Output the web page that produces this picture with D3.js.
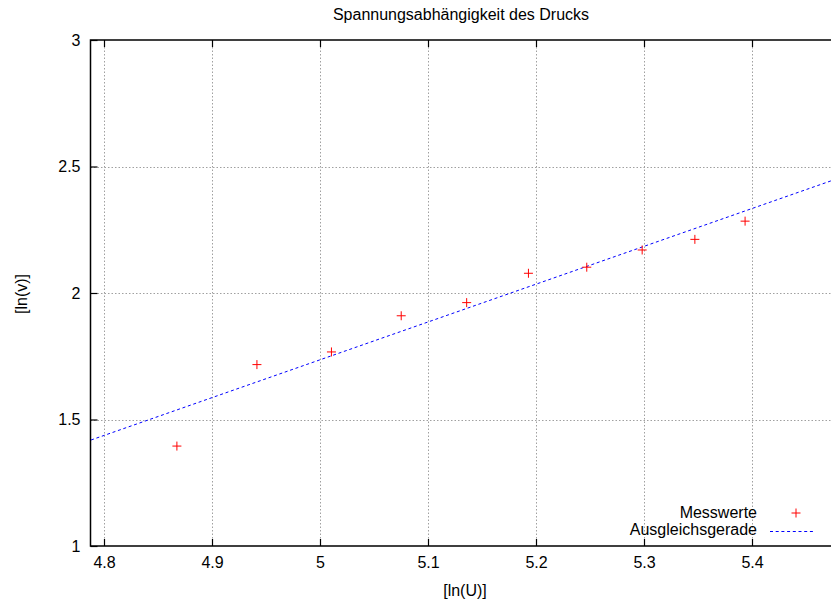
<!DOCTYPE html>
<html>
<head>
<meta charset="utf-8">
<script src="https://cdn.jsdelivr.net/npm/d3@7"></script>
<style>
  body { margin: 0; background: #fff; }
  svg { display: block; }
  text { font-family: "Liberation Sans", Arial, sans-serif; font-size: 16px; fill: #000; }
</style>
</head>
<body>
<svg id="chart" width="831" height="602"></svg>
<script>
// Data
const lnU = [4.8675, 4.9416, 5.0106, 5.0752, 5.1358, 5.1930, 5.2470, 5.2983, 5.3471, 5.3936];
const lnV = [1.395, 1.717, 1.767, 1.910, 1.962, 2.078, 2.102, 2.170, 2.212, 2.284];
const fitX = [4.788, 5.473];
const fitY = [1.419, 2.443];
const xTicks = [4.8, 4.9, 5.0, 5.1, 5.2, 5.3, 5.4];
const xTickLabels = ["4.8", "4.9", "5", "5.1", "5.2", "5.3", "5.4"];
const yTicks = [1, 1.5, 2, 2.5, 3];
const yTickLabels = ["1", "1.5", "2", "2.5", "3"];
const title = "Spannungsabhängigkeit des Drucks";
const xLabel = "[ln(U)]";
const yLabel = "[ln(v)]";
const legendLabels = ["Messwerte", "Ausgleichsgerade"];

const pLeft = 90.5, pRight = 831.5, pTop = 40, pBottom = 546;
const x = d3.scaleLinear().domain([4.8, 5.4]).range([104, 752]);
const y = d3.scaleLinear().domain([1, 3]).range([pBottom, pTop]);

const svg = d3.select("#chart");

// grid
const grid = svg.append("g").attr("stroke", "#a0a0a0").attr("stroke-width", 1).attr("stroke-dasharray", "1.5,2");
grid.selectAll("line.vx").data(xTicks).enter().append("line")
  .attr("x1", d => Math.round(x(d)) + 0.5).attr("x2", d => Math.round(x(d)) + 0.5)
  .attr("y1", pTop).attr("y2", pBottom);
grid.selectAll("line.hy").data(yTicks.filter(d => d > 1 && d < 3)).enter().append("line")
  .attr("y1", d => Math.round(y(d)) + 0.5).attr("y2", d => Math.round(y(d)) + 0.5)
  .attr("x1", pLeft).attr("x2", pRight);

// axes via d3
const xAxisB = d3.axisBottom(x).tickValues(xTicks).tickSize(-7).tickFormat((d, i) => xTickLabels[i]).tickPadding(11);
const gxb = svg.append("g").attr("transform", `translate(0,${pBottom})`).call(xAxisB);
const xAxisT = d3.axisTop(x).tickValues(xTicks).tickSize(-7).tickFormat("");
const gxt = svg.append("g").attr("transform", `translate(0,${pTop})`).call(xAxisT);
const yAxisL = d3.axisLeft(y).tickValues(yTicks).tickSize(-7).tickFormat((d, i) => yTickLabels[i]).tickPadding(10);
const gyl = svg.append("g").attr("transform", `translate(${pLeft},0)`).call(yAxisL);
[gxb, gxt, gyl].forEach(g => {
  g.select(".domain").remove();
  g.selectAll(".tick line").attr("stroke", "#000").attr("stroke-width", 1.2);
  g.selectAll(".tick text").attr("font-family", "Liberation Sans, Arial, sans-serif").attr("font-size", 16).attr("fill", "#000");
});

// frame
svg.append("path")
  .attr("d", `M${pRight},${pTop}H${pLeft}V${pBottom}H${pRight}`)
  .attr("fill", "none").attr("stroke", "#000").attr("stroke-width", 1.5);

// fit line
svg.append("path")
  .datum(fitX.map((d, i) => [d, fitY[i]]))
  .attr("d", d3.line().x(d => x(d[0])).y(d => y(d[1])))
  .attr("fill", "none").attr("stroke", "#0000ff").attr("stroke-width", 1).attr("stroke-dasharray", "3,2.7");

// points
const cross = (cx, cy, r) => `M${cx - r},${cy}H${cx + r}M${cx},${cy - r}V${cy + r}`;
svg.append("g").selectAll("path").data(lnU).enter().append("path")
  .attr("d", (d, i) => cross(x(d), y(lnV[i]), 4.5))
  .attr("stroke", "#ff0000").attr("stroke-width", 1).attr("fill", "none");

// title and labels
svg.append("text").attr("x", 461).attr("y", 20).attr("text-anchor", "middle").text(title);
svg.append("text").attr("x", 465).attr("y", 596).attr("text-anchor", "middle").text(xLabel);
svg.append("text").attr("transform", "translate(27,294) rotate(-90)").attr("text-anchor", "middle").text(yLabel);

// legend
const lg = svg.append("g");
lg.append("text").attr("x", 757).attr("y", 518).attr("text-anchor", "end").text(legendLabels[0]);
lg.append("path").attr("d", cross(796, 513, 4.5)).attr("stroke", "#ff0000").attr("stroke-width", 1);
lg.append("text").attr("x", 757).attr("y", 535).attr("text-anchor", "end").text(legendLabels[1]);
lg.append("line").attr("x1", 770).attr("x2", 815).attr("y1", 531.5).attr("y2", 531.5)
  .attr("stroke", "#0000ff").attr("stroke-width", 1).attr("stroke-dasharray", "3,2.7");
</script>
</body>
</html>
